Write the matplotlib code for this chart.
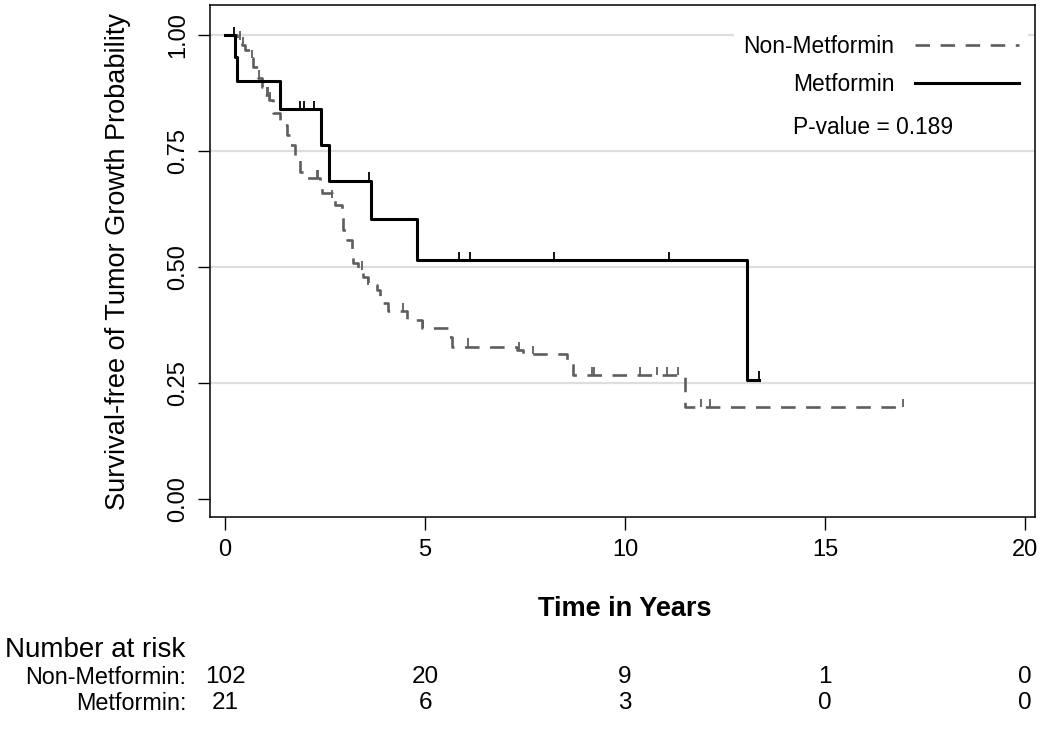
import numpy as np
import matplotlib
matplotlib.use("Agg")
import matplotlib.pyplot as plt
from matplotlib import font_manager
from matplotlib.lines import Line2D
from matplotlib.transforms import blended_transform_factory

# ---------------- data ----------------
nm_t = [0, 0.29, 0.42, 0.50, 0.65, 0.71, 0.83, 0.92, 1.00, 1.10, 1.20, 1.37, 1.54, 1.62,
        1.75, 1.87, 2.05, 2.37, 2.42, 2.67, 2.75, 2.92, 2.95, 3.04, 3.17, 3.20, 3.32, 3.45,
        3.57, 3.80, 3.87, 3.95, 4.07, 4.54, 4.92, 5.57, 5.67, 7.29, 7.45, 8.55, 8.70, 11.50, 16.95]
nm_s = [1.0, 0.99, 0.978, 0.968, 0.95, 0.932, 0.907, 0.889, 0.871, 0.86, 0.832, 0.806, 0.784, 0.763,
        0.735, 0.705, 0.692, 0.681, 0.659, 0.648, 0.633, 0.608, 0.58, 0.558, 0.537, 0.509, 0.494, 0.479,
        0.461, 0.45, 0.436, 0.422, 0.405, 0.386, 0.368, 0.35, 0.328, 0.321, 0.312, 0.295, 0.267, 0.198, 0.198]
nm_cens = [0.37, 0.45, 0.67, 0.85, 1.04, 1.08, 1.12, 2.29, 2.33, 2.67, 3.42, 3.57, 4.45, 4.94,
           6.07, 7.35, 7.69, 9.17, 9.22, 10.37, 10.79, 11.04, 11.33, 11.89, 12.12, 16.95]

m_t = [0, 0.25, 0.31, 1.37, 2.40, 2.60, 3.65, 4.80, 13.05, 13.35]
m_s = [1.0, 0.953, 0.900, 0.840, 0.763, 0.686, 0.603, 0.515, 0.257, 0.257]
m_cens = [0.22, 1.87, 1.97, 2.22, 3.59, 5.85, 6.12, 8.22, 11.1, 13.35]

risk_times = [0, 5, 10, 15, 20]
risk_non = [102, 20, 9, 1, 0]
risk_met = [21, 6, 3, 0, 0]
group_labels = ["Non-Metformin", "Metformin"]
p_text = "P-value = 0.189"
x_ticks = [0, 5, 10, 15, 20]
y_ticks = [0.00, 0.25, 0.50, 0.75, 1.00]

# ---------------- fonts ----------------
avail = {f.name for f in font_manager.fontManager.ttflist}
main_font = ["Liberation Sans", "DejaVu Sans"]
narrow_font = (["Liberation Sans Narrow", "DejaVu Sans"] if "Liberation Sans Narrow" in avail
               else ["Liberation Sans", "DejaVu Sans"])
narrow_scale = 1.2 if "Liberation Sans Narrow" in avail else 1.0
plt.rcParams['font.family'] = main_font

fig = plt.figure(figsize=(10.5, 7.3), dpi=100)
ax = fig.add_axes([210/1050, 1 - 517/730, 825/1050, 512/730])

# axis ranges: 0 at px 225, 20 at 1025; y: 0 at 499, 1 at 35
ax.set_xlim(-0.375, 20.25)
ax.set_ylim(-18/464, 1 + 30/464)

for y in [0.25, 0.5, 0.75, 1.0]:
    ax.axhline(y, color="#dedede", lw=1.6, zorder=0)

nm_color = "#5e5e5e"
ax.step(nm_t, nm_s, where="post", color=nm_color, lw=1.9, linestyle=(0, (5.5, 4)), zorder=2)
ax.step(m_t, m_s, where="post", color="black", lw=2.2, zorder=3)

def cens_vals(t, s, c):
    idx = np.searchsorted(np.array(t), np.array(c), side="right") - 1
    return np.array(s)[idx]

h = 0.018
cv = cens_vals(nm_t, nm_s, nm_cens)
ax.vlines(nm_cens, cv, cv + h, color=nm_color, lw=1.3, zorder=2)
cv = cens_vals(m_t, m_s, m_cens)
ax.vlines(m_cens, cv, cv + h, color="black", lw=1.3, zorder=3)

# frame
for sp in ax.spines.values():
    sp.set_linewidth(1.1)
    sp.set_color("black")

ax.set_xticks(x_ticks)
ax.set_xticklabels([str(v) for v in x_ticks], fontsize=17)
ax.set_yticks(y_ticks)
ax.set_yticklabels([f"{v:.2f}" for v in y_ticks], fontsize=17, rotation=90, va="center")
ax.tick_params(axis="both", direction="out", length=9, width=1.0, color="black", pad=7)
ax.tick_params(axis="y", pad=6)

ax.set_ylabel("Survival-free of Tumor Growth Probability", fontsize=19.5)
ax.yaxis.set_label_coords((131 - 210) / 825, 0.5)
ax.set_xlabel("Time in Years", fontsize=19.5, fontweight="bold")
ax.xaxis.set_label_coords((625 - 210) / 825, (517 - 596) / 512)

# legend
handles = [Line2D([], [], color=nm_color, lw=1.9, linestyle=(0, (5.5, 4))),
           Line2D([], [], color="black", lw=2.2)]
leg = ax.legend(handles, group_labels, loc="upper right", bbox_to_anchor=(0.992, 0.96),
                borderaxespad=0, markerfirst=False, handlelength=4.6, handletextpad=0.88,
                labelspacing=0.68, fontsize=16.4, frameon=True, fancybox=False,
                framealpha=1.0, facecolor="white", edgecolor="none", borderpad=0.4)
leg.set_zorder(5)
ax.text((793 - 210) / 825, (517 - 127) / 512, p_text, transform=ax.transAxes,
        fontsize=16.4, ha="left", va="center", zorder=6)

# number at risk table
trans = blended_transform_factory(ax.transData, ax.transAxes)
fig.text(5/1050, 1 - 650/730, "Number at risk", fontsize=20 * narrow_scale, ha="left",
         va="center", family=narrow_font)
rows_y = [677, 703]
for lab, vals, ypx in zip(group_labels, [risk_non, risk_met], rows_y):
    yax = (517 - ypx) / 512
    fig.text(186/1050, 1 - ypx/730, lab + ":", fontsize=16.8 * narrow_scale, ha="right",
             va="center", family=narrow_font)
    for t, v in zip(risk_times, vals):
        ax.text(t, yax, str(v), transform=trans, fontsize=17.5 * narrow_scale, ha="center",
                va="center", family=narrow_font, clip_on=False)

fig.savefig("out.png", dpi=100)
